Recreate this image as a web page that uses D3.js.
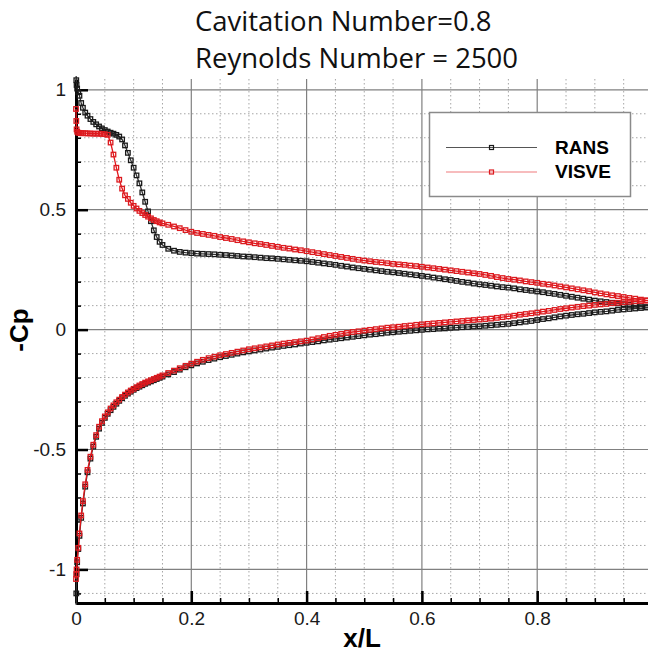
<!DOCTYPE html>
<html>
<head>
<meta charset="utf-8">
<script src="https://cdn.jsdelivr.net/npm/d3@7"></script>
<style>
  html, body { margin: 0; padding: 0; background: #fff; overflow: hidden; }
  svg { display: block; }
</style>
</head>
<body>
<svg id="chart" width="648" height="654"></svg>
<script>
// Pressure distribution on the foil, -Cp against x/L, two solvers
const titleLines = ["Cavitation Number=0.8", "Reynolds Number = 2500"];
const seriesNames = ["RANS", "VISVE"];
const xTickValues = [0, 0.2, 0.4, 0.6, 0.8];
const xTickLabels = ["0", "0.2", "0.4", "0.6", "0.8"];
const yTickValues = [-1, -0.5, 0, 0.5, 1];
const yTickLabels = ["-1", "-0.5", "0", "0.5", "1"];
const xTitle = "x/L";
const yTitle = "-Cp";

// Surface stations (x/L), shared by all four curves
const stations = [
  0, 0.0005, 0.001, 0.002, 0.004, 0.006, 0.009, 0.012, 0.016,
  0.020, 0.025, 0.030, 0.035, 0.040, 0.045, 0.050, 0.055, 0.060, 0.065,
  0.070, 0.075, 0.080, 0.085, 0.090, 0.095, 0.100, 0.105, 0.110, 0.115,
  0.120, 0.125, 0.130, 0.135, 0.140, 0.145, 0.150,
  0.16, 0.17, 0.18, 0.19,
  0.20, 0.21, 0.22, 0.23, 0.24, 0.25, 0.26, 0.27, 0.28, 0.29,
  0.30, 0.31, 0.32, 0.33, 0.34, 0.35, 0.36, 0.37, 0.38, 0.39,
  0.40, 0.41, 0.42, 0.43, 0.44, 0.45, 0.46, 0.47, 0.48, 0.49,
  0.50, 0.51, 0.52, 0.53, 0.54, 0.55, 0.56, 0.57, 0.58, 0.59,
  0.60, 0.61, 0.62, 0.63, 0.64, 0.65, 0.66, 0.67, 0.68, 0.69,
  0.70, 0.71, 0.72, 0.73, 0.74, 0.75, 0.76, 0.77, 0.78, 0.79,
  0.80, 0.81, 0.82, 0.83, 0.84, 0.85, 0.86, 0.87, 0.88, 0.89,
  0.90, 0.91, 0.92, 0.93, 0.94, 0.95, 0.96, 0.97, 0.98, 0.99,
  1.00
];

// -Cp, RANS, suction side
const ransUpper = [
  1.08, 1.04, 1.02, 1.005, 0.99, 0.975, 0.945, 0.925, 0.905,
  0.892, 0.878, 0.866, 0.856, 0.847, 0.839, 0.832, 0.826, 0.821, 0.817,
  0.812, 0.805, 0.793, 0.768, 0.737, 0.706, 0.675, 0.643, 0.610, 0.572,
  0.533, 0.493, 0.452, 0.414, 0.386, 0.366, 0.353,
  0.337, 0.329, 0.324, 0.321,
  0.319, 0.317, 0.316, 0.315, 0.314, 0.312, 0.311, 0.309, 0.307, 0.305,
  0.304, 0.302, 0.300, 0.298, 0.297, 0.295, 0.293, 0.291, 0.289, 0.287,
  0.285, 0.282, 0.279, 0.276, 0.273, 0.270, 0.266, 0.263, 0.259, 0.256,
  0.253, 0.250, 0.247, 0.244, 0.241, 0.239, 0.236, 0.233, 0.230, 0.227,
  0.224, 0.221, 0.217, 0.214, 0.210, 0.207, 0.203, 0.199, 0.196, 0.192,
  0.189, 0.186, 0.183, 0.180, 0.177, 0.175, 0.172, 0.168, 0.165, 0.162,
  0.159, 0.156, 0.152, 0.149, 0.145, 0.141, 0.137, 0.133, 0.129, 0.125,
  0.121, 0.118, 0.115, 0.112, 0.109, 0.106, 0.103, 0.100, 0.097, 0.094,
  0.091
];

// -Cp, RANS, pressure side
const ransLower = [
  -1.30, -1.10, -1.02, -0.97, -0.915, -0.86, -0.785, -0.725, -0.655,
  -0.595, -0.538, -0.488, -0.447, -0.413, -0.389, -0.368, -0.351, -0.336, -0.322,
  -0.309, -0.297, -0.286, -0.276, -0.267, -0.259, -0.251, -0.244, -0.238, -0.232,
  -0.226, -0.221, -0.216, -0.211, -0.206, -0.201, -0.196,
  -0.187, -0.177, -0.167, -0.157,
  -0.149, -0.141, -0.134, -0.127, -0.121, -0.115, -0.110, -0.105, -0.100, -0.095,
  -0.091, -0.087, -0.083, -0.079, -0.075, -0.072, -0.068, -0.065, -0.062, -0.058,
  -0.055, -0.052, -0.049, -0.045, -0.042, -0.039, -0.036, -0.033, -0.030, -0.027,
  -0.024, -0.021, -0.019, -0.016, -0.013, -0.011, -0.009, -0.007, -0.005, -0.003,
  -0.001, 0.001, 0.002, 0.004, 0.005, 0.007, 0.008, 0.010, 0.011, 0.013,
  0.014, 0.016, 0.018, 0.020, 0.022, 0.024, 0.027, 0.030, 0.033, 0.036,
  0.040, 0.044, 0.047, 0.051, 0.055, 0.058, 0.061, 0.064, 0.066, 0.069,
  0.072, 0.074, 0.076, 0.079, 0.082, 0.084, 0.086, 0.088, 0.090, 0.092,
  0.093
];

// -Cp, VISVE, suction side
const visveUpper = [
  0.92, 0.87, 0.835, 0.825, 0.821, 0.820, 0.819, 0.819, 0.819,
  0.818, 0.818, 0.817, 0.817, 0.817, 0.816, 0.815, 0.812, 0.780, 0.730,
  0.675, 0.625, 0.588, 0.560, 0.545, 0.529, 0.516, 0.505, 0.495, 0.486,
  0.478, 0.471, 0.464, 0.457, 0.452, 0.447, 0.443,
  0.437, 0.430, 0.423, 0.415,
  0.408, 0.403, 0.399, 0.395, 0.391, 0.386, 0.382, 0.378, 0.373, 0.368,
  0.364, 0.360, 0.357, 0.353, 0.349, 0.345, 0.341, 0.338, 0.334, 0.331,
  0.327, 0.323, 0.319, 0.315, 0.311, 0.307, 0.303, 0.299, 0.295, 0.291,
  0.288, 0.285, 0.282, 0.280, 0.277, 0.274, 0.272, 0.270, 0.267, 0.265,
  0.262, 0.259, 0.256, 0.253, 0.250, 0.247, 0.244, 0.241, 0.238, 0.235,
  0.232, 0.228, 0.224, 0.219, 0.215, 0.211, 0.208, 0.205, 0.201, 0.198,
  0.195, 0.191, 0.188, 0.184, 0.180, 0.176, 0.172, 0.168, 0.164, 0.160,
  0.155, 0.151, 0.147, 0.143, 0.140, 0.136, 0.132, 0.129, 0.125, 0.122,
  0.119
];

// -Cp, VISVE, pressure side
const visveLower = [
  -1.04, -1.02, -1.00, -0.96, -0.91, -0.85, -0.775, -0.715, -0.645,
  -0.585, -0.530, -0.480, -0.440, -0.405, -0.382, -0.362, -0.345, -0.329, -0.316,
  -0.303, -0.292, -0.281, -0.271, -0.262, -0.254, -0.247, -0.240, -0.233, -0.227,
  -0.221, -0.216, -0.211, -0.206, -0.201, -0.196, -0.191,
  -0.181, -0.171, -0.161, -0.151,
  -0.142, -0.134, -0.126, -0.119, -0.113, -0.107, -0.102, -0.097, -0.092, -0.087,
  -0.082, -0.078, -0.074, -0.070, -0.066, -0.062, -0.058, -0.055, -0.052, -0.049,
  -0.046, -0.041, -0.036, -0.031, -0.026, -0.022, -0.018, -0.014, -0.010, -0.007,
  -0.004, -0.001, 0.002, 0.005, 0.008, 0.010, 0.012, 0.015, 0.017, 0.020,
  0.022, 0.024, 0.026, 0.028, 0.030, 0.032, 0.034, 0.036, 0.038, 0.040,
  0.042, 0.044, 0.046, 0.049, 0.052, 0.055, 0.058, 0.062, 0.065, 0.068,
  0.071, 0.075, 0.078, 0.082, 0.086, 0.089, 0.092, 0.095, 0.098, 0.100,
  0.103, 0.105, 0.107, 0.110, 0.112, 0.114, 0.116, 0.118, 0.119, 0.121,
  0.122
];

const series = [
  { name: seriesNames[0], upper: ransUpper, lower: ransLower,
    line: "#333333", mark: "#1a1a1a", legendLine: "#555555" },
  { name: seriesNames[1], upper: visveUpper, lower: visveLower,
    line: "#e3161b", mark: "#dc1a1f", legendLine: "#f07a7c" }
];

const svg = d3.select("#chart");
const plot = { left: 76, right: 648, top: 79, bottom: 603 };

const x = d3.scaleLinear().domain([0, 1]).range([76, 652.5]);
const y = d3.scaleLinear().domain([-1.14, 1.045]).range([603, 79]);

// Grid: dotted minor lines, solid major lines
const xMinor = d3.range(0.05, 1.0001, 0.05).filter(v => Math.abs(v / 0.2 - Math.round(v / 0.2)) > 1e-6);
const yMinor = d3.range(-1.1, 1.0001, 0.1).filter(v => Math.abs(v / 0.5 - Math.round(v / 0.5)) > 1e-6);

const grid = svg.append("g");
grid.selectAll(".vminor").data(xMinor).join("line")
  .attr("x1", d => x(d)).attr("x2", d => x(d))
  .attr("y1", plot.top).attr("y2", plot.bottom)
  .attr("stroke", "#a6a6a6").attr("stroke-width", 1).attr("stroke-dasharray", "1.5,2.5");
grid.selectAll(".hminor").data(yMinor).join("line")
  .attr("x1", plot.left).attr("x2", plot.right)
  .attr("y1", d => y(d)).attr("y2", d => y(d))
  .attr("stroke", "#a6a6a6").attr("stroke-width", 1).attr("stroke-dasharray", "1.5,2.5");
grid.selectAll(".vmajor").data(xTickValues.filter(v => v > 0)).join("line")
  .attr("x1", d => x(d)).attr("x2", d => x(d))
  .attr("y1", plot.top).attr("y2", plot.bottom)
  .attr("stroke", "#808080").attr("stroke-width", 1.2);
grid.selectAll(".hmajor").data(yTickValues).join("line")
  .attr("x1", plot.left).attr("x2", plot.right)
  .attr("y1", d => y(d)).attr("y2", d => y(d))
  .attr("stroke", "#808080").attr("stroke-width", 1.2);

// Axes with inward ticks
function styleAxis(g) {
  g.select(".domain").attr("stroke", "#000").attr("stroke-width", 3);
  g.selectAll(".tick line").attr("stroke", "#000").attr("stroke-width", 2.5);
  g.selectAll(".tick text").attr("fill", "#1a1a1a")
    .style("font-family", "'Liberation Sans', Arial, sans-serif").style("font-size", "19px");
}

const xAxis = svg.append("g").attr("transform", `translate(0,${plot.bottom})`)
  .call(d3.axisBottom(x).tickValues(xTickValues).tickFormat((d, i) => xTickLabels[i])
    .tickSize(-12).tickSizeOuter(0).tickPadding(9));
styleAxis(xAxis);
const xAxisMinor = svg.append("g").attr("transform", `translate(0,${plot.bottom})`)
  .call(d3.axisBottom(x).tickValues(xMinor).tickFormat("").tickSize(-5).tickSizeOuter(0));
xAxisMinor.select(".domain").remove();
xAxisMinor.selectAll(".tick line").attr("stroke", "#000").attr("stroke-width", 1.5);

const yAxis = svg.append("g").attr("transform", `translate(${plot.left},0)`)
  .call(d3.axisLeft(y).tickValues(yTickValues).tickFormat((d, i) => yTickLabels[i])
    .tickSize(-12).tickSizeOuter(0).tickPadding(10));
styleAxis(yAxis);
const yAxisMinor = svg.append("g").attr("transform", `translate(${plot.left},0)`)
  .call(d3.axisLeft(y).tickValues(yMinor).tickFormat("").tickSize(-5).tickSizeOuter(0));
yAxisMinor.select(".domain").remove();
yAxisMinor.selectAll(".tick line").attr("stroke", "#000").attr("stroke-width", 1.5);

// Curves
svg.append("defs").append("clipPath").attr("id", "plotClip")
  .append("rect").attr("x", 70).attr("y", 76).attr("width", 600).attr("height", 529);

const line = d3.line().x(d => x(d[0])).y(d => y(d[1]));
const curves = svg.append("g").attr("clip-path", "url(#plotClip)");
const ms = 4.5;

series.forEach(s => {
  [s.upper, s.lower].forEach(vals => {
    const pts = stations.map((sx, i) => [sx, vals[i]]);
    const g = curves.append("g");
    g.append("path").datum(pts).attr("d", line)
      .attr("fill", "none").attr("stroke", s.line).attr("stroke-width", 1.3);
    g.selectAll("rect").data(pts).join("rect")
      .attr("x", d => x(d[0]) - ms / 2).attr("y", d => y(d[1]) - ms / 2)
      .attr("width", ms).attr("height", ms)
      .attr("fill", "none").attr("stroke", s.mark).attr("stroke-width", 1.3);
  });
});

// Legend
const legend = svg.append("g");
legend.append("rect").attr("x", 429.5).attr("y", 112.5).attr("width", 201).attr("height", 84)
  .attr("fill", "#fff").attr("stroke", "#8a8a8a").attr("stroke-width", 1.5);
series.forEach((s, i) => {
  const ly = 147.5 + i * 24.5;
  legend.append("line").attr("x1", 446).attr("x2", 537).attr("y1", ly).attr("y2", ly)
    .attr("stroke", s.legendLine).attr("stroke-width", 1.2);
  legend.append("rect").attr("x", 491.5 - 2).attr("y", ly - 2)
    .attr("width", 4).attr("height", 4)
    .attr("fill", "none").attr("stroke", s.mark).attr("stroke-width", 1.2);
  legend.append("text").attr("x", 555).attr("y", ly + 6)
    .style("font-family", "'Liberation Sans', Arial, sans-serif")
    .style("font-size", "19px").style("font-weight", "bold").attr("fill", "#000")
    .text(s.name);
});

// Titles
svg.selectAll(".title").data(titleLines).join("text")
  .attr("x", 195).attr("y", (d, i) => 31 + i * 37)
  .style("font-family", "'Open Sans', sans-serif").style("font-size", "27.5px")
  .attr("fill", "#111").text(d => d);

svg.append("text").attr("x", 362).attr("y", 647).attr("text-anchor", "middle")
  .style("font-family", "'Liberation Sans', Arial, sans-serif")
  .style("font-size", "26px").style("font-weight", "bold").text(xTitle);

svg.append("text").attr("transform", "translate(28,330) rotate(-90)").attr("text-anchor", "middle")
  .style("font-family", "'Liberation Sans', Arial, sans-serif")
  .style("font-size", "26px").style("font-weight", "bold").text(yTitle);
</script>
</body>
</html>
